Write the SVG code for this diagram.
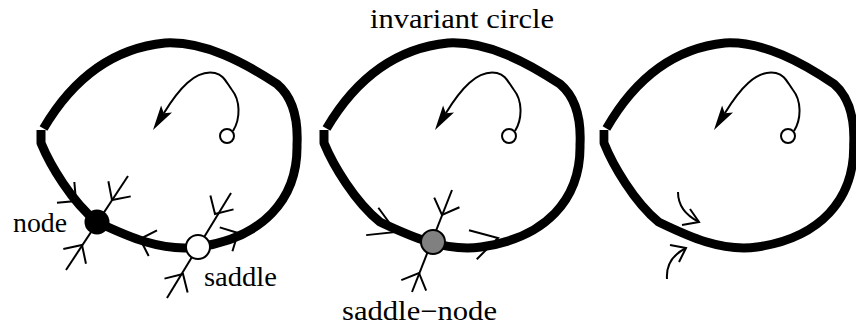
<svg xmlns="http://www.w3.org/2000/svg" xmlns:xlink="http://www.w3.org/1999/xlink" width="856" height="326" viewBox="0 0 856 326">
<style>
.loop{fill:none;stroke:#000;stroke-width:9;stroke-linejoin:round;stroke-linecap:butt}
.thin{fill:none;stroke:#000;stroke-width:2;stroke-linecap:butt;stroke-linejoin:miter}
.lbl{font-family:"Liberation Serif","Times New Roman",serif;font-size:27px;fill:#000}
</style>
<defs>
<path id="loopShape" class="loop" d="M 41,130 L 41,143 C 50,165 72,202 97,222 C 125,235 160,252 198,247 C 262,238 298,200 297,145 C 298,125 296,100 277,84 C 245,63 205,41 165,43 C 115,48 75,75 43.5,128.5"/>
<g id="spiral">
<circle cx="227" cy="136" r="7" class="thin"/>
<path class="thin" d="M 233,131 C 241,118 240,100 232,90 C 226,82 224,75 215,73 C 195,69 178,90 163.8,113.2"/>
<polygon points="153,130 161.1,105.5 163.8,113.2 172,112.5" fill="#000"/>
</g>
<path id="chv" class="thin" d="M-13.5,-13.5 L0,0 L-13.5,13.5"/>
<path id="chvL" class="thin" d="M-26,-15 L0,0 L-26,15"/>
</defs>

<text class="lbl" x="370" y="28" textLength="184" lengthAdjust="spacingAndGlyphs">invariant circle</text>

<g id="loop1">
<use xlink:href="#loopShape"/>
<use xlink:href="#spiral"/>
</g>
<g id="loop2">
<use xlink:href="#loopShape" transform="translate(283,0)"/>
<use xlink:href="#spiral" transform="translate(282,0)"/>
</g>
<g id="loop3">
<use xlink:href="#loopShape" transform="translate(603,0) scale(0.975,1) translate(-40,0)"/>
<use xlink:href="#spiral" transform="translate(561,0)"/>
</g>

<g id="connectors">
<line class="thin" x1="66" y1="270" x2="128" y2="176"/>
<line class="thin" x1="167" y1="298" x2="231" y2="193"/>
<line class="thin" x1="412" y1="292" x2="452" y2="190"/>
<use xlink:href="#chv" transform="translate(112,200) rotate(124)"/>
<use xlink:href="#chv" transform="translate(82,245) rotate(-57)"/>
<use xlink:href="#chv" transform="translate(76,201) rotate(40)"/>
<use xlink:href="#chv" transform="translate(140,239) rotate(198)"/>
<use xlink:href="#chv" transform="translate(215,214) rotate(121)"/>
<use xlink:href="#chv" transform="translate(183,274) rotate(-59)"/>
<use xlink:href="#chv" transform="translate(238,233) rotate(-28)"/>
<use xlink:href="#chv" transform="translate(442,215) rotate(111)"/>
<use xlink:href="#chv" transform="translate(419,273) rotate(-67)"/>
<use xlink:href="#chvL" transform="translate(396,232) rotate(24)"/>
<use xlink:href="#chvL" transform="translate(498,238) rotate(-15)"/>
<path class="thin" d="M 678,192 C 678,205 685,215 699,222"/>
<path class="thin" d="M 690,209 L 699,222 L 682,225"/>
<path class="thin" d="M 667,279 C 666,265 672,255 686,248"/>
<path class="thin" d="M 670,245 L 686,248 L 679,262"/>
</g>

<g id="node">
<circle cx="97" cy="222" r="12.5" fill="#000"/>
<text class="lbl" x="13" y="232" textLength="54" lengthAdjust="spacingAndGlyphs">node</text>
</g>
<g id="saddle">
<circle cx="198" cy="247" r="12" fill="#fff" stroke="#000" stroke-width="2"/>
<text class="lbl" x="204" y="286" textLength="73" lengthAdjust="spacingAndGlyphs">saddle</text>
</g>
<g id="saddle-node">
<circle cx="433" cy="242" r="12" fill="#808080" stroke="#000" stroke-width="2"/>
<text class="lbl" x="342" y="320" textLength="155" lengthAdjust="spacingAndGlyphs">saddle−node</text>
</g>
</svg>
